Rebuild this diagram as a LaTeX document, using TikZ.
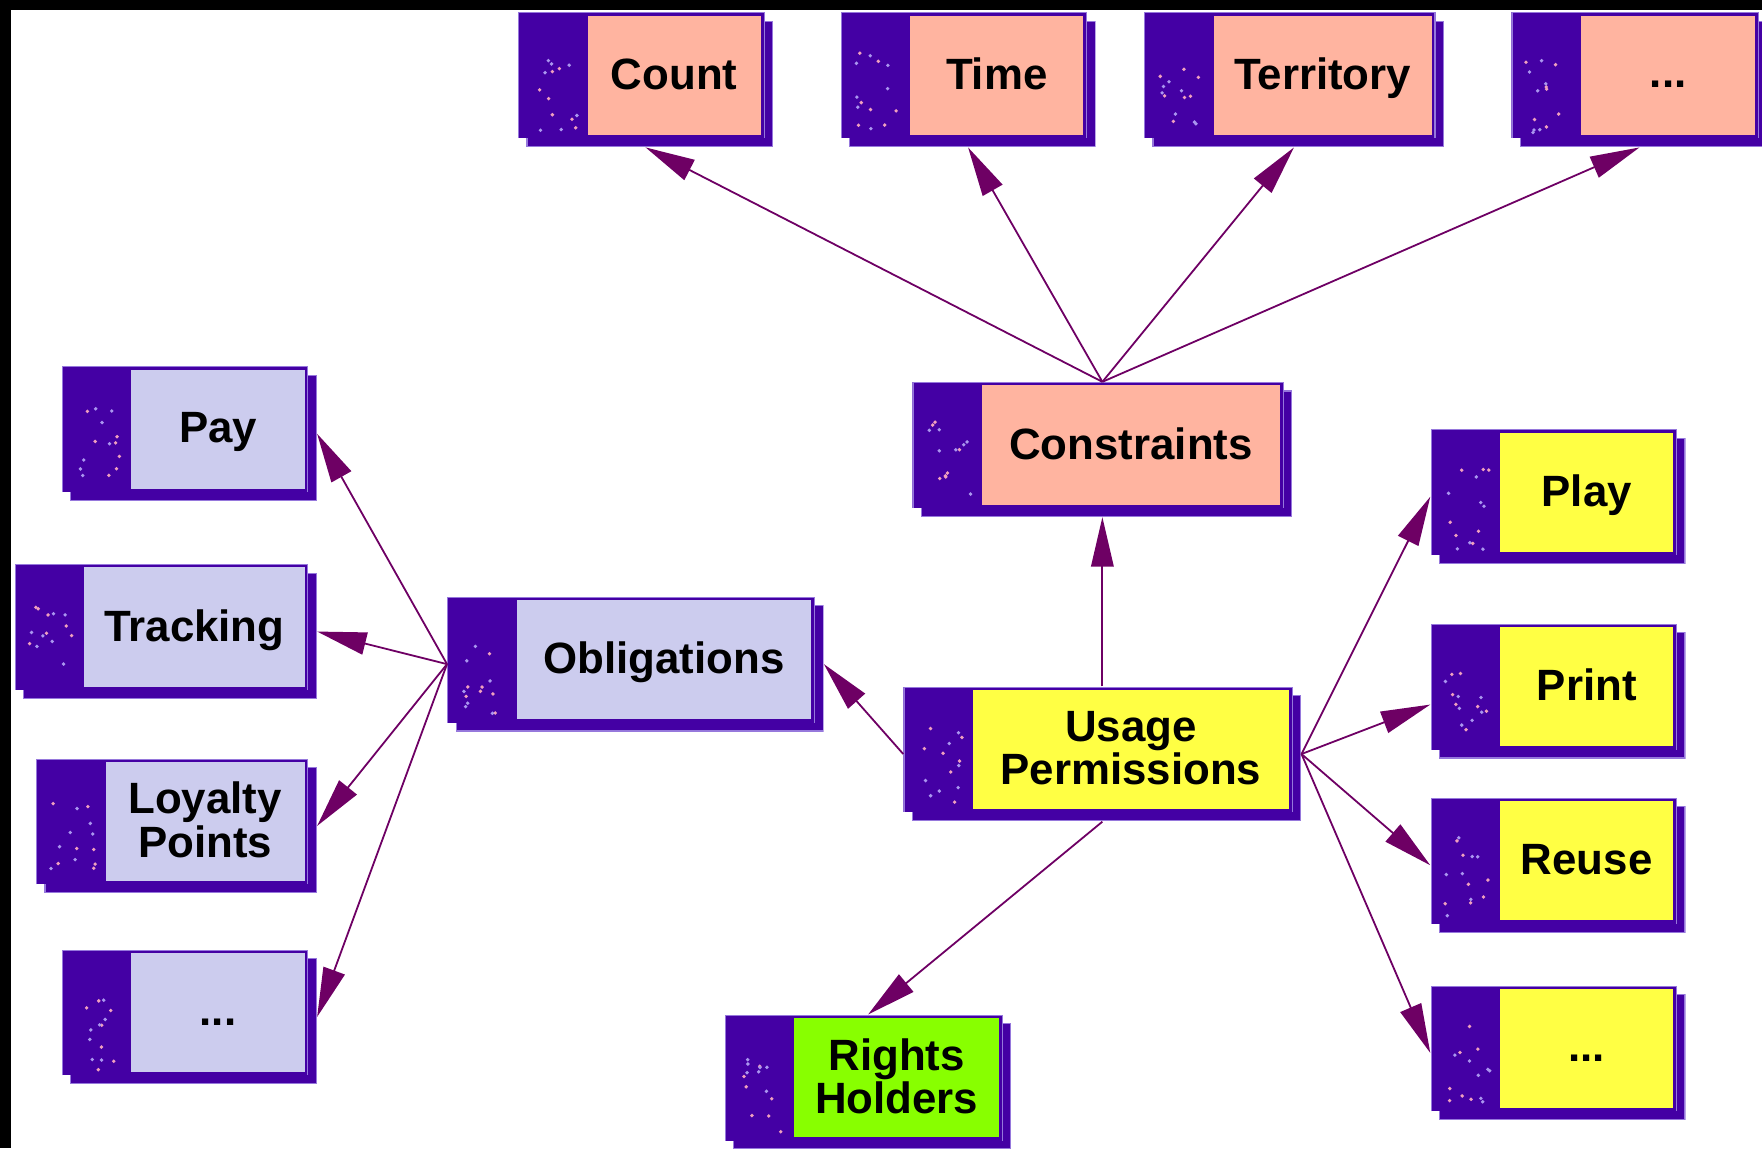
\documentclass[tikz,border=0pt]{standalone}
\usepackage{fontspec}
\setmainfont{Liberation Sans}
\usetikzlibrary{positioning,calc,arrows.meta}
\definecolor{frame}{RGB}{68,0,164}
\definecolor{rim}{RGB}{150,120,220}
\definecolor{speck}{RGB}{240,160,190}
\definecolor{speck2}{RGB}{170,150,240}
\definecolor{salmon}{RGB}{255,180,160}
\definecolor{lilac}{RGB}{204,204,238}
\definecolor{lemon}{RGB}{255,255,68}
\definecolor{lime}{RGB}{136,255,0}
\definecolor{arrcol}{RGB}{110,0,100}
\newcommand{\tiletext}[1]{\hspace*{51pt}\raisebox{3pt}{\begin{tabular}{@{}c@{}}#1\end{tabular}}}
\tikzset{tile/.style={rectangle, minimum height=120, inner sep=0pt, font=\fontsize{39}{36}\selectfont\bfseries,
    path picture={
        \coordinate (tl) at (path picture bounding box.north west);
        \coordinate (br) at (path picture bounding box.south east);
        \filldraw[fill=frame, draw=rim, line width=1pt] ($(tl)+(8,8)$) rectangle ($(br)+(-0.5,-0.5)$);
        \fill[frame] (tl) rectangle ($(br)+(-8,-8)$);
        \draw[rim, line width=1pt] ($(tl)+(0.5,112)$) -- ($(tl)+(0.5,0.5)$) -| ($(br)+(-8,-8)$);
        \fill[#1] ($(tl)+(62,3)$) rectangle ($(br)+(-11,-11)$);
        \foreach \k in {1,...,7} {
            \fill[speck] ($(tl)+({13+40*rnd},{35+72*rnd})$) circle (1.7);
            \fill[speck2] ($(tl)+({13+40*rnd},{35+72*rnd})$) circle (1.7);
        }
    }}}
\tikzset{arr/.style={draw=arrcol, line width=1.6pt, -{Triangle[length=44pt, width=20pt]}}}

\begin{document}
\begin{tikzpicture}[x=1pt, y=-1pt]
                \useasboundingbox (0,0) rectangle (1568,1022);
                \fill[black] (0,0) rectangle (1568,9);
                \fill[black] (0,0) rectangle (10,1022);
                \pgfmathsetseed{7}
                % top row
                \node[tile=salmon, minimum width=227] (count) at (574.5,71) {\tiletext{Count}};
                \node[tile=salmon, minimum width=227] (time) at (861.5,71) {\tiletext{Time}};
                \node[tile=salmon, minimum width=267] (terr) at (1151.5,71) {\tiletext{Territory}};
                \node[tile=salmon, minimum width=228] (cdots) at (1459,71) {\tiletext{...}};
                \node[tile=salmon, minimum width=338] (cons) at (981,400) {\tiletext{Constraints}};
                % middle
                \node[tile=lemon, minimum width=354] (usage) at (981,671) {\tiletext{Usage\\Permissions}};
                \node[tile=lilac, minimum width=335] (obl) at (565.5,591) {\tiletext{Obligations}};
                \node[tile=lime, minimum width=255] (rights) at (772.5,963) {\tiletext{Rights\\Holders}};
                % left column
                \node[tile=lilac, minimum width=227] (pay) at (168.5,386) {\tiletext{Pay}};
                \node[tile=lilac, minimum width=269] (track) at (147.5,562) {\tiletext{Tracking}};
                \node[tile=lilac, minimum width=250] (loyal) at (157,735) {\tiletext{Loyalty\\Points}};
                \node[tile=lilac, minimum width=227] (odots) at (168.5,905) {\tiletext{...}};
                % right column
                \node[tile=lemon, minimum width=227] (play) at (1386.5,442) {\tiletext{Play}};
                \node[tile=lemon, minimum width=227] (print) at (1386.5,615) {\tiletext{Print}};
                \node[tile=lemon, minimum width=227] (reuse) at (1386.5,770) {\tiletext{Reuse}};
                \node[tile=lemon, minimum width=227] (pdots) at (1386.5,937) {\tiletext{...}};
                %
                \foreach \t in {count,time,terr,cdots}
                    \draw[arr] (cons.north) -- (\t.south);
                \draw[arr] (usage.north) -- (cons.south);
                \draw[arr] (usage.west) -- (obl.east);
                \draw[arr] (usage.south) -- (rights.north);
                %
                \draw[arr] (usage.east) -- (play.west);
                \draw[arr] (usage.east) -- ([yshift=-12pt]print.west);
                \draw[arr] (usage.east) -- (reuse.west);
                \draw[arr] (usage.east) -- (pdots.west);
                %
                \foreach \t in {pay,track,loyal,odots}
                    \draw[arr] (obl.west) -- (\t.east);
                %
            \end{tikzpicture}
\end{document}
